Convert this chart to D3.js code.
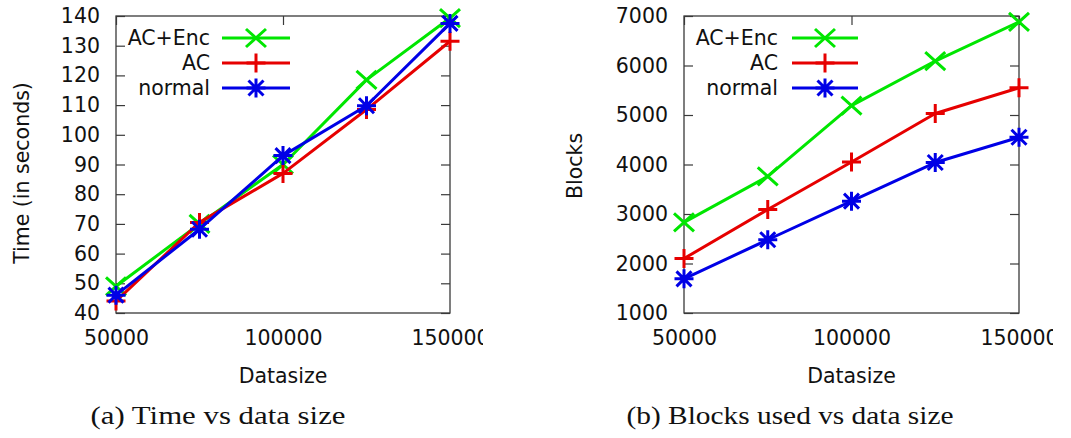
<!DOCTYPE html>
<html>
<head>
<meta charset="utf-8">
<script src="https://cdn.jsdelivr.net/npm/d3@7"></script>
<style>
  body { margin: 0; background: #fff; }
  svg { display: block; }
</style>
</head>
<body>
<svg id="fig" width="1071" height="438"></svg>
<script>
// Data sizes shared by both panels
const datasizes = [50000, 75000, 100000, 125000, 150000];
const xTicks = [50000, 100000, 150000];

// (a) running time in seconds
const timeAcEnc  = [49, 70, 90, 118.5, 139.3];
const timeAc     = [44, 70.5, 87, 108.5, 131.5];
const timeNormal = [46, 68.2, 93, 109.8, 137.5];
const timeTicks  = [40, 50, 60, 70, 80, 90, 100, 110, 120, 130, 140];

// (b) blocks used
const blocksAcEnc  = [2830, 3760, 5190, 6090, 6880];
const blocksAc     = [2100, 3090, 4050, 5030, 5550];
const blocksNormal = [1690, 2480, 3260, 4040, 4550];
const blocksTicks  = [1000, 2000, 3000, 4000, 5000, 6000, 7000];

const seriesNames = ["AC+Enc", "AC", "normal"];
const seriesColors = ["#00e600", "#e60000", "#0000e6"];
const seriesMarkers = ["cross", "plus", "star"];

const FONT = "'DejaVu Sans', sans-serif";
const FS = 20.5;
const AXIS_COLOR = "#3a3a3a";
const intFmt = d3.format("d");

function markerPath(kind) {
  const p = 9.5;
  if (kind === "plus") return `M${-p},0L${p},0M0,${-p}L0,${p}`;
  if (kind === "cross") return `M${-10},${-9}L10,9M${-10},9L10,${-9}`;
  const d = 7.5;
  return `M${-p},0L${p},0M0,${-p}L0,${p}M${-d},${-d}L${d},${d}M${-d},${d}L${d},${-d}`;
}

const svg = d3.select("#fig");
const defs = svg.append("defs");

function drawPanel(cfg) {
  const g = svg.append("g");
  const x = d3.scaleLinear().domain([50000, 150000]).range([cfg.left, cfg.right]);
  const y = d3.scaleLinear().domain(cfg.yDomain).range([cfg.bottom, cfg.top]);

  // the tick labels are cut at the panel's right edge
  const clipId = "clip-" + cfg.id;
  defs.append("clipPath").attr("id", clipId)
    .append("rect").attr("x", 0).attr("y", 0)
    .attr("width", cfg.clipRight).attr("height", 438);

  const styleAxis = sel => {
    sel.select(".domain").remove();
    sel.selectAll(".tick line").attr("stroke", AXIS_COLOR).attr("stroke-width", 1.2);
    sel.selectAll(".tick text").attr("fill", "#111")
      .style("font-family", FONT).style("font-size", FS + "px");
  };

  // y axis (left, labelled) and mirror (right)
  g.append("g").attr("transform", `translate(${cfg.left},0)`)
    .call(d3.axisLeft(y).tickValues(cfg.yTicks).tickSizeInner(-9).tickSizeOuter(0)
      .tickPadding(16).tickFormat(intFmt))
    .call(styleAxis);
  g.append("g").attr("transform", `translate(${cfg.right},0)`)
    .call(d3.axisRight(y).tickValues(cfg.yTicks).tickSizeInner(-9).tickSizeOuter(0).tickFormat(""))
    .call(styleAxis);

  // x axis (bottom, labelled) and mirror (top)
  g.append("g").attr("transform", `translate(0,${cfg.bottom})`)
    .attr("clip-path", `url(#${clipId})`)
    .call(d3.axisBottom(x).tickValues(xTicks).tickSizeInner(-9).tickSizeOuter(0)
      .tickPadding(17).tickFormat(intFmt))
    .call(styleAxis);
  g.append("g").attr("transform", `translate(0,${cfg.top})`)
    .call(d3.axisTop(x).tickValues(xTicks).tickSizeInner(-9).tickSizeOuter(0).tickFormat(""))
    .call(styleAxis);

  // frame
  g.append("rect")
    .attr("x", cfg.left).attr("y", cfg.top)
    .attr("width", cfg.right - cfg.left).attr("height", cfg.bottom - cfg.top)
    .attr("fill", "none").attr("stroke", AXIS_COLOR).attr("stroke-width", 1.3);

  // axis titles
  g.append("text")
    .attr("transform", `translate(${cfg.yTitleX},${cfg.yTitleY}) rotate(-90)`)
    .attr("text-anchor", "middle").attr("dominant-baseline", "central")
    .style("font-family", FONT).style("font-size", FS + "px").attr("fill", "#111")
    .text(cfg.yTitle);
  g.append("text")
    .attr("x", (cfg.left + cfg.right) / 2).attr("y", 383)
    .attr("text-anchor", "middle")
    .style("font-family", FONT).style("font-size", FS + "px").attr("fill", "#111")
    .text("Datasize");

  // caption
  g.append("text")
    .attr("x", cfg.captionX).attr("y", 424)
    .attr("text-anchor", "middle")
    .attr("textLength", cfg.captionWidth).attr("lengthAdjust", "spacingAndGlyphs")
    .style("font-family", "'Liberation Serif', 'DejaVu Serif', serif")
    .style("font-size", "25px").attr("fill", "#111")
    .text(cfg.caption);

  const line = d3.line().x((d, i) => x(datasizes[i])).y(d => y(d));

  cfg.series.forEach((vals, k) => {
    const color = seriesColors[k];
    g.append("path").datum(vals)
      .attr("d", line).attr("fill", "none")
      .attr("stroke", color).attr("stroke-width", 3).attr("stroke-linejoin", "round");
    g.selectAll(null).data(vals).join("path")
      .attr("transform", (d, i) => `translate(${x(datasizes[i])},${y(d)})`)
      .attr("d", markerPath(seriesMarkers[k]))
      .attr("fill", "none").attr("stroke", color).attr("stroke-width", 3);

    // legend entry
    const ly = 38 + k * 25;
    g.append("text")
      .attr("x", cfg.legendTextEnd).attr("y", ly)
      .attr("text-anchor", "end").attr("dominant-baseline", "central")
      .style("font-family", FONT).style("font-size", FS + "px").attr("fill", "#111")
      .text(seriesNames[k]);
    g.append("line")
      .attr("x1", cfg.legendLine[0]).attr("x2", cfg.legendLine[1])
      .attr("y1", ly).attr("y2", ly)
      .attr("stroke", color).attr("stroke-width", 3);
    g.append("path")
      .attr("transform", `translate(${(cfg.legendLine[0] + cfg.legendLine[1]) / 2},${ly})`)
      .attr("d", markerPath(seriesMarkers[k]))
      .attr("fill", "none").attr("stroke", color).attr("stroke-width", 3);
  });
}

drawPanel({
  id: "time", left: 116, right: 450, top: 16, bottom: 313,
  yDomain: [40, 140], yTicks: timeTicks,
  series: [timeAcEnc, timeAc, timeNormal],
  yTitle: "Time (in seconds)", yTitleX: 22, yTitleY: 173,
  legendTextEnd: 210, legendLine: [222, 290],
  clipRight: 483, caption: "(a) Time vs data size", captionX: 218, captionWidth: 255
});

drawPanel({
  id: "blocks", left: 684, right: 1019, top: 16, bottom: 313,
  yDomain: [1000, 7000], yTicks: blocksTicks,
  series: [blocksAcEnc, blocksAc, blocksNormal],
  yTitle: "Blocks", yTitleX: 575, yTitleY: 166,
  legendTextEnd: 778, legendLine: [792, 858],
  clipRight: 1053, caption: "(b) Blocks used vs data size", captionX: 790, captionWidth: 327
});
</script>
</body>
</html>
